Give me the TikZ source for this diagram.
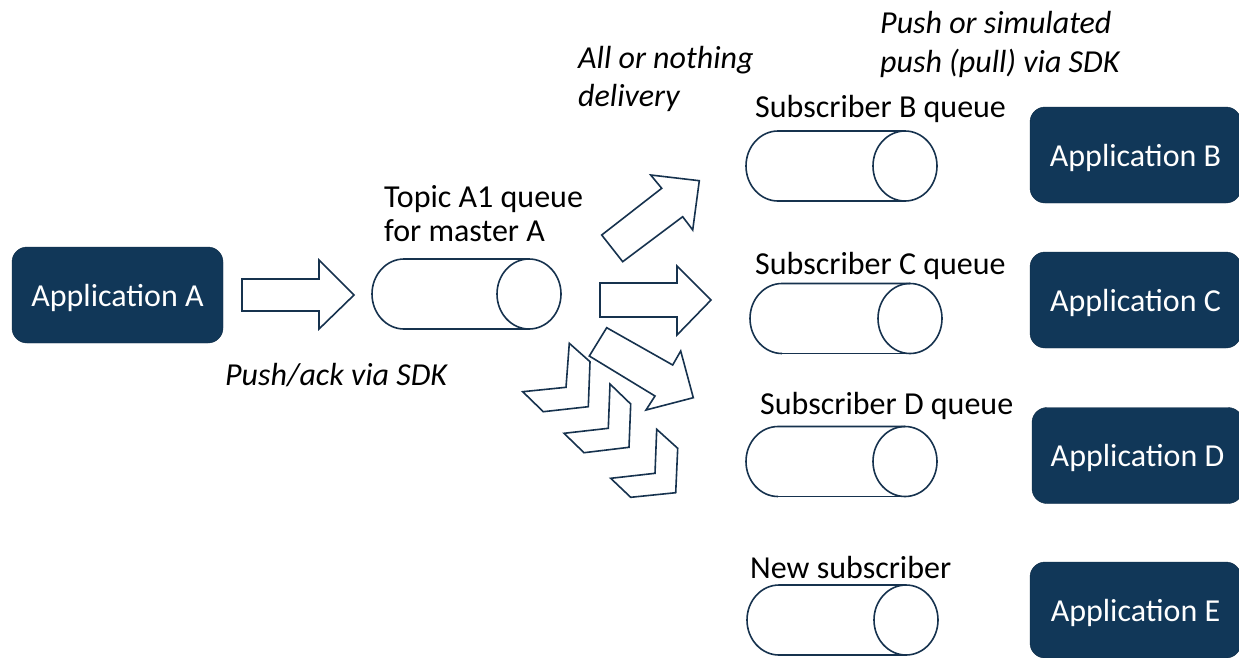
\documentclass[tikz,border=0pt]{standalone}
\usepackage{fontspec}
\setmainfont{Carlito}
\definecolor{navy}{RGB}{17,55,88}
\definecolor{linec}{RGB}{22,50,78}
\newcommand\qcyl[4]{% name, x0, x1, yc
  \draw[shapeline] (#2+32,#4+35) arc[start angle=90,end angle=270,x radius=32,y radius=35]
     -- (#3-32,#4-35);
  \draw[shapeline] (#2+32,#4+35) -- (#3-32,#4+35);
  \draw[shapeline] (#3-32,#4) ellipse[x radius=32,y radius=35];
  \coordinate (#1) at ({(#2+#3)/2},#4);
}
\begin{document}
\begin{tikzpicture}[x=1pt,y=-1pt,
  shapeline/.style={draw=linec,line width=1.6pt,line join=miter},
  appbox/.style={draw=navy!80!black,fill=navy,rounded corners=15pt,minimum width=211pt,minimum height=96pt,
     text=white,font=\fontsize{32}{36}\selectfont,inner sep=0pt,text height=24pt,text depth=2pt},
  lbl/.style={anchor=base west,inner sep=0pt,font=\fontsize{32}{36}\selectfont},
  ilbl/.style={lbl,font=\fontsize{32}{36}\selectfont\itshape}]
\fill[white] (0,0) rectangle (1239,657);
\useasboundingbox (0,0) rectangle (1239,657);
\begin{scope}
\clip (0,0) rectangle (1239,657);
% application boxes
\node[appbox] (appA) at (117.5,295) {Application A};
\node[appbox] (appB) at (1135.5,155) {Application B};
\node[appbox] (appC) at (1135.5,300) {Application C};
\node[appbox] (appD) at (1137.5,455.5) {Application D};
\node[appbox] (appE) at (1135.5,610) {Application E};
% queues
\qcyl{topic}{372}{561}{294}
\qcyl{qB}{746}{937}{166}
\qcyl{qC}{750}{942}{318.5}
\qcyl{qD}{746}{937}{461.5}
\qcyl{qE}{747}{938}{620}
% block arrows
\draw[shapeline] (242,279) -- (319,279) -- (319,260) -- (354,295) -- (319,329) -- (319,311) -- (242,311) -- cycle;
\draw[shapeline] (600,283) -- (677,283) -- (677,266) -- (711,300) -- (677,335) -- (677,317) -- (600,317) -- cycle;
\draw[shapeline] (601.7,235) -- (661.7,188.3) -- (650.7,175) -- (699.3,180.7) -- (692.7,230) -- (682.7,216.7) -- (622.7,261.7) -- cycle;
\draw[shapeline] (606.7,327.7) -- (672.7,365) -- (680.7,351) -- (693.3,397.7) -- (646,410) -- (655,396) -- (589.3,356) -- cycle;
% chevrons
\draw[shapeline] (569.3,343.3) -- (590,361.7) -- (588.3,406.7) -- (543.3,411.7) -- (522.7,391.7) -- (566,387.3) -- cycle;
\draw[shapeline] (610,384) -- (630.7,404) -- (629,447.3) -- (584,452.7) -- (564,433.3) -- (608.3,428.3) -- cycle;
\draw[shapeline] (656.7,429.3) -- (677.7,448.3) -- (675.7,492.7) -- (630.7,497.3) -- (610.7,478.3) -- (655,473.3) -- cycle;
% labels
\node[lbl] (tl1) at (384,207) {Topic A1 queue};
\node[lbl] (tl2) at (384,241) {for master A};
\node[ilbl] (an1) at (578,68) {All or nothing};
\node[ilbl] (an2) at (578,106) {delivery};
\node[ilbl] (ps1) at (880,33) {Push or simulated};
\node[ilbl] (ps2) at (880,72) {push (pull) via SDK};
\node[ilbl] (pa) at (225,385) {Push/ack via SDK};
\node[lbl] (sB) at (755,117) {Subscriber B queue};
\node[lbl] (sC) at (755,274) {Subscriber C queue};
\node[lbl] (sD) at (760,414) {Subscriber D queue};
\node[lbl] (sE) at (750,578) {New subscriber};
\end{scope}
\end{tikzpicture}
\end{document}
